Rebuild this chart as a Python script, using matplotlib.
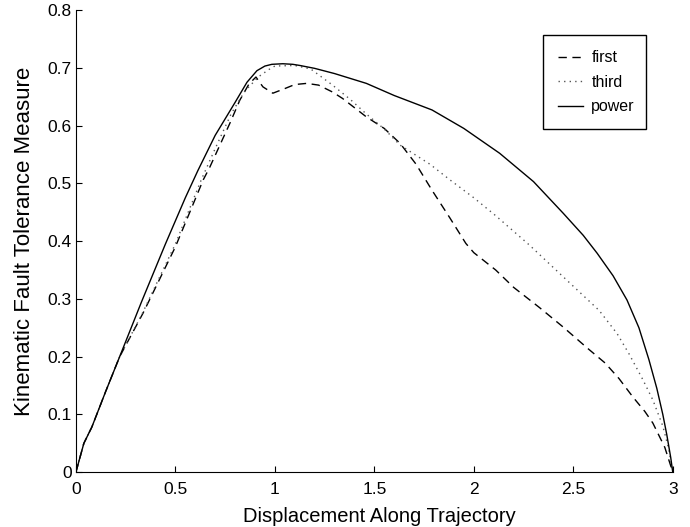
import matplotlib
matplotlib.use("Agg")
import matplotlib.pyplot as plt

plt.rcParams['font.family'] = ['Liberation Sans', 'DejaVu Sans']

# displacement / measure pairs
x_first = [0, 0.04, 0.08, 0.15, 0.22, 0.337, 0.5, 0.64, 0.673, 0.774, 0.824, 0.87, 0.905,
           0.94, 0.99, 1.05, 1.1, 1.16, 1.22, 1.29, 1.34, 1.46, 1.55, 1.63, 1.71, 1.79,
           1.88, 1.96, 2.0, 2.11, 2.2, 2.33, 2.45, 2.57, 2.66, 2.73, 2.8, 2.86, 2.9,
           2.96, 3.0]
y_first = [0, 0.05, 0.078, 0.14, 0.2, 0.275, 0.39, 0.506, 0.528, 0.604, 0.644, 0.672, 0.684,
           0.667, 0.656, 0.664, 0.671, 0.673, 0.670, 0.658, 0.647, 0.615, 0.595, 0.569, 0.533,
           0.488, 0.44, 0.396, 0.38, 0.35, 0.32, 0.285, 0.251, 0.215, 0.189, 0.162, 0.13,
           0.105, 0.085, 0.043, 0]

x_third = [0, 0.04, 0.08, 0.15, 0.22, 0.33, 0.5, 0.63, 0.7, 0.78, 0.85, 0.92, 0.97, 1.0,
           1.1, 1.18, 1.29, 1.38, 1.46, 1.55, 1.63, 1.78, 1.88, 2.0, 2.11, 2.28, 2.45,
           2.63, 2.72, 2.78, 2.85, 2.9, 2.95, 2.98, 3.0]
y_third = [0, 0.05, 0.078, 0.14, 0.2, 0.272, 0.395, 0.506, 0.56, 0.62, 0.66, 0.685, 0.697, 0.703,
           0.704, 0.698, 0.67, 0.645, 0.62, 0.594, 0.566, 0.533, 0.506, 0.475, 0.444, 0.393,
           0.338, 0.28, 0.24, 0.205, 0.16, 0.125, 0.08, 0.04, 0]

x_power = [0, 0.04, 0.08, 0.15, 0.22, 0.33, 0.45, 0.55, 0.613, 0.7, 0.8, 0.86, 0.91, 0.95,
           0.985, 1.04, 1.09, 1.126, 1.2, 1.3, 1.46, 1.6, 1.79, 1.95, 2.13, 2.3, 2.45,
           2.55, 2.62, 2.7, 2.77, 2.83, 2.88, 2.92, 2.95, 2.97, 2.99, 3.0]
y_power = [0, 0.05, 0.078, 0.14, 0.2, 0.295, 0.395, 0.475, 0.522, 0.583, 0.64, 0.675, 0.695, 0.703,
           0.706, 0.707, 0.706, 0.704, 0.699, 0.69, 0.673, 0.652, 0.627, 0.595, 0.552, 0.503,
           0.448, 0.41, 0.379, 0.34, 0.298, 0.25, 0.195, 0.145, 0.1, 0.065, 0.025, 0]

x_ticks = [0, 0.5, 1, 1.5, 2, 2.5, 3]
x_tick_labels = ["0", "0.5", "1", "1.5", "2", "2.5", "3"]
y_ticks = [0, 0.1, 0.2, 0.3, 0.4, 0.5, 0.6, 0.7, 0.8]
y_tick_labels = ["0", "0.1", "0.2", "0.3", "0.4", "0.5", "0.6", "0.7", "0.8"]

fig = plt.figure(figsize=(6.9, 5.27), dpi=100)
ax = fig.add_axes([0.110, 0.104, 0.865, 0.877])

ax.plot(x_first, y_first, color="black", linestyle=(0, (6, 4)), linewidth=1.0, label="first")
ax.plot(x_third, y_third, color="#555555", linestyle=(0, (1, 3)), linewidth=1.0, label="third")
ax.plot(x_power, y_power, color="black", linestyle="-", linewidth=1.0, label="power")

ax.set_xlim(0, 3)
ax.set_ylim(0, 0.8)
ax.set_xticks(x_ticks)
ax.set_xticklabels(x_tick_labels)
ax.set_yticks(y_ticks)
ax.set_yticklabels(y_tick_labels)
ax.tick_params(direction="in", length=4, labelsize=12.5, width=0.8)
ax.tick_params(axis="x", pad=7)
ax.tick_params(axis="y", pad=3)

ax.spines["top"].set_visible(False)
ax.spines["right"].set_visible(False)

ax.set_xlabel("Displacement Along Trajectory", fontsize=14.5, labelpad=8)
ax.xaxis.set_label_coords(0.509, -0.075)
ax.set_ylabel("Kinematic Fault Tolerance Measure", fontsize=16, labelpad=9)

# legend box spans x 0.782..0.956 of the axes, text left aligned
leg = ax.legend(loc="upper left", bbox_to_anchor=(0.782, 0.946, 0.174, 0.0), mode="expand",
                fontsize=11.5, fancybox=False, framealpha=1, edgecolor="black",
                handlelength=1.55, labelspacing=0.6, borderpad=0.95, handletextpad=0.55,
                borderaxespad=0)
leg.get_frame().set_linewidth(1.0)

plt.savefig("out.png", dpi=100)
